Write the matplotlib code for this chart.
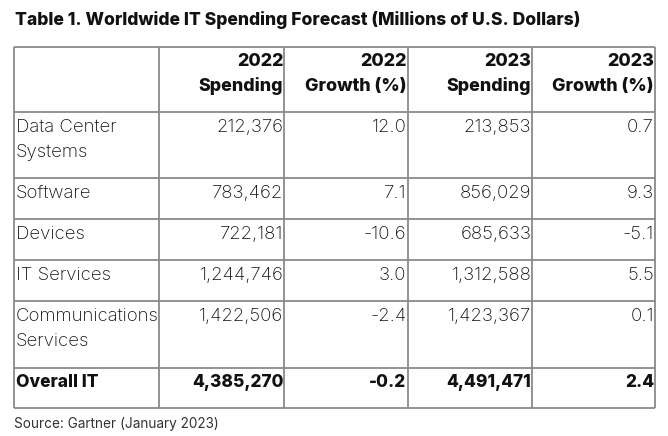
import matplotlib
matplotlib.use("Agg")
import matplotlib.pyplot as plt
from matplotlib.textpath import TextPath
from matplotlib.font_manager import FontProperties

#---Data---
Title = "Table 1. Worldwide IT Spending Forecast (Millions of U.S. Dollars)"
Source = "Source: Gartner (January 2023)"
Headers = [["", ""], ["2022", "Spending"], ["2022", "Growth (%)"],
           ["2023", "Spending"], ["2023", "Growth (%)"]]
Segments = [["Data Center", "Systems"], ["Software"], ["Devices"], ["IT Services"],
            ["Communications", "Services"], ["Overall IT"]]
Spend2022 = ["212,376", "783,462", "722,181", "1,244,746", "1,422,506", "4,385,270"]
Growth2022 = ["12.0", "7.1", "-10.6", "3.0", "-2.4", "-0.2"]
Spend2023 = ["213,853", "856,029", "685,633", "1,312,588", "1,423,367", "4,491,471"]
Growth2023 = ["0.7", "9.3", "-5.1", "5.5", "0.1", "2.4"]

#---Layout (pixels)---
ColEdges = [14.3, 159.3, 284.3, 407.5, 532.3, 655.0]
RowEdges = [46.7, 112.3, 178.3, 219.3, 260.0, 301.3, 367.7, 407.7]
LineGap = 25
BaseOff = 19.5
FontName = "Inter"
BodyWeight = "light"
LineColour = "#8a8a8a"
TextColour = "#111111"


def FitSize(s, weight, target):
    """Font size (pt) giving the string a width of target pixels at 100 dpi"""
    fp = FontProperties(family=FontName, weight=weight, size=10)
    w = TextPath((0, 0), s, prop=fp).get_extents().width  # in points at size 10
    return 10 * target / (w * 100 / 72)


TitleSize = FitSize(Title, "heavy", 563)
HeadSize = FitSize("Spending", "heavy", 83)
BodySize = FitSize("Communications", BodyWeight, 141)
TotalSize = FitSize("4,385,270", "heavy", 90)
SourceSize = FitSize(Source, "normal", 203)

fig = plt.figure(figsize=(6.68, 4.36), dpi=100)
ax = fig.add_axes([0, 0, 1, 1])
ax.set_xlim(0, 668)
ax.set_ylim(436, 0)
ax.axis("off")

ax.text(ColEdges[0] + 1, 25, Title, fontsize=TitleSize, fontweight="heavy", family=FontName,
        ha="left", va="baseline", color=TextColour)

ax.hlines(RowEdges, ColEdges[0], ColEdges[-1], color=LineColour, lw=1.3)
ax.vlines(ColEdges, RowEdges[0], RowEdges[-1], color=LineColour, lw=1.3)

# header
for c, lines in enumerate(Headers):
    for k, s in enumerate(lines):
        ax.text(ColEdges[c + 1] - 1, RowEdges[0] + BaseOff + LineGap * k, s,
                fontsize=HeadSize, fontweight="heavy", family=FontName,
                ha="right", va="baseline", color=TextColour)

Columns = [Spend2022, Growth2022, Spend2023, Growth2023]
for r, seg in enumerate(Segments):
    top = RowEdges[r + 1]
    last = r == len(Segments) - 1
    weight = "heavy" if last else BodyWeight
    size = TotalSize if last else BodySize
    for k, s in enumerate(seg):
        ax.text(ColEdges[0] + 1.5, top + BaseOff + LineGap * k, s, fontsize=size,
                fontweight=weight, family=FontName, ha="left", va="baseline", color=TextColour)
    for c, col in enumerate(Columns):
        ax.text(ColEdges[c + 2] - 1, top + BaseOff, col[r], fontsize=size,
                fontweight=weight, family=FontName, ha="right", va="baseline", color=TextColour)

ax.text(ColEdges[0], 427.5, Source, fontsize=SourceSize, fontweight="normal",
        family=FontName, ha="left", va="baseline", color="#333333")

fig.savefig("out.png", dpi=100)
